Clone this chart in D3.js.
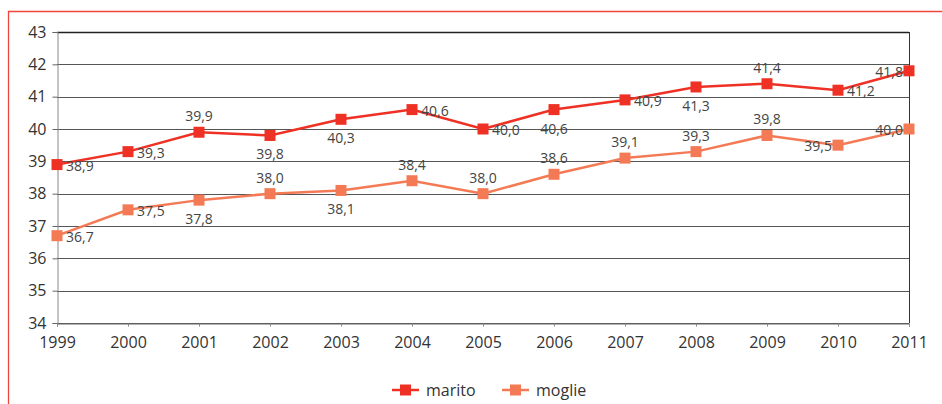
<!DOCTYPE html>
<html>
<head>
<meta charset="utf-8">
<script src="https://cdn.jsdelivr.net/npm/d3@7/dist/d3.min.js"></script>
<style>
  body { margin: 0; background: #fff; }
  svg { display: block; font-family: "Open Sans", "DejaVu Sans", sans-serif; }
</style>
</head>
<body>
<svg id="chart" width="942" height="404"></svg>
<script>
const years = [1999, 2000, 2001, 2002, 2003, 2004, 2005, 2006, 2007, 2008, 2009, 2010, 2011];
const marito = [38.9, 39.3, 39.9, 39.8, 40.3, 40.6, 40.0, 40.6, 40.9, 41.3, 41.4, 41.2, 41.8];
const moglie = [36.7, 37.5, 37.8, 38.0, 38.1, 38.4, 38.0, 38.6, 39.1, 39.3, 39.8, 39.5, 40.0];
const yTicks = [34, 35, 36, 37, 38, 39, 40, 41, 42, 43];
// where each value label sits relative to its marker
const maritoLabelSide = ["r", "r", "t", "b", "b", "r", "r", "b", "r", "b", "t", "r", "l"];
const moglieLabelSide = ["r", "r", "b", "t", "b", "t", "t", "t", "t", "t", "t", "l", "l"];

const series = [
  { name: "marito", values: marito, sides: maritoLabelSide, color: "#EE3124" },
  { name: "moglie", values: moglie, sides: moglieLabelSide, color: "#F47A55" }
];

const svg = d3.select("#chart");
const fmt = v => d3.format(".1f")(v).replace(".", ",");

// outer frame (top and left edges)
svg.append("path").attr("d", "M8.5,404 V11.5 H942")
  .attr("fill", "none").attr("stroke", "#F0453A").attr("stroke-width", 1.3);

const x = d3.scaleLinear().domain([1999, 2011]).range([57, 909]);
const y = d3.scaleLinear().domain([34, 43]).range([323, 32]);

// horizontal gridlines
svg.append("g").selectAll("line").data(yTicks).join("line")
  .attr("x1", 57).attr("x2", 909)
  .attr("y1", d => Math.round(y(d)) + 0.5).attr("y2", d => Math.round(y(d)) + 0.5)
  .attr("stroke", d => d === 43 ? "#222" : "#555").attr("stroke-width", d => d === 43 ? 1.5 : 1);

// right border of plot
svg.append("line").attr("x1", 909.5).attr("x2", 909.5).attr("y1", y(43)).attr("y2", y(34))
  .attr("stroke", "#333").attr("stroke-width", 1);

// y axis
const yAxis = svg.append("g").attr("transform", "translate(57.5,0)")
  .call(d3.axisLeft(y).tickValues(yTicks).tickSize(5).tickPadding(6).tickFormat(d3.format("d")));
yAxis.select(".domain").attr("stroke", "#888");
yAxis.selectAll(".tick line").attr("stroke", "#666");
yAxis.selectAll("text").attr("fill", "#333").style("font-size", "16px")
  .style("font-family", "\"Open Sans\", sans-serif");

// x axis
const xAxis = svg.append("g").attr("transform", "translate(0,323.5)")
  .call(d3.axisBottom(x).tickValues(years).tickSize(3).tickPadding(10).tickFormat(d3.format("d")));
xAxis.select(".domain").attr("stroke", "#666");
xAxis.selectAll(".tick line").attr("stroke", "#888");
xAxis.selectAll("text").attr("fill", "#333").style("font-size", "16px")
  .style("font-family", "\"Open Sans\", sans-serif");

const line = d3.line().x((d, i) => x(years[i])).y(d => y(d));

series.forEach(s => {
  const g = svg.append("g");
  g.append("path").datum(s.values).attr("d", line)
    .attr("fill", "none").attr("stroke", s.color).attr("stroke-width", 2.5);
  g.selectAll("rect").data(s.values).join("rect")
    .attr("x", (d, i) => x(years[i]) - 5.5).attr("y", d => y(d) - 5.5)
    .attr("width", 11).attr("height", 11).attr("fill", s.color);
  g.selectAll("text").data(s.values).join("text")
    .attr("x", (d, i) => {
      const side = s.sides[i];
      if (side === "r") return x(years[i]) + 9;
      if (side === "l") return x(years[i]) - 6;
      return x(years[i]);
    })
    .attr("y", (d, i) => {
      const side = s.sides[i];
      if (side === "t") return y(d) - 11;
      if (side === "b") return y(d) + 24;
      return y(d) + 6;
    })
    .attr("text-anchor", (d, i) => s.sides[i] === "r" ? "start" : s.sides[i] === "l" ? "end" : "middle")
    .attr("fill", "#444").style("font-size", "14px")
    .text(d => fmt(d));
});

// legend
const legend = svg.append("g").attr("transform", "translate(392,390)");
series.forEach((s, i) => {
  const lg = legend.append("g").attr("transform", `translate(${i * 110},0)`);
  lg.append("line").attr("x1", 0).attr("x2", 27).attr("y1", 0).attr("y2", 0)
    .attr("stroke", s.color).attr("stroke-width", 2.5);
  lg.append("rect").attr("x", 8).attr("y", -5.5).attr("width", 11).attr("height", 11).attr("fill", s.color);
  lg.append("text").attr("x", 34).attr("y", 6).attr("fill", "#333")
    .style("font-size", "16px").text(s.name);
});
</script>
</body>
</html>
